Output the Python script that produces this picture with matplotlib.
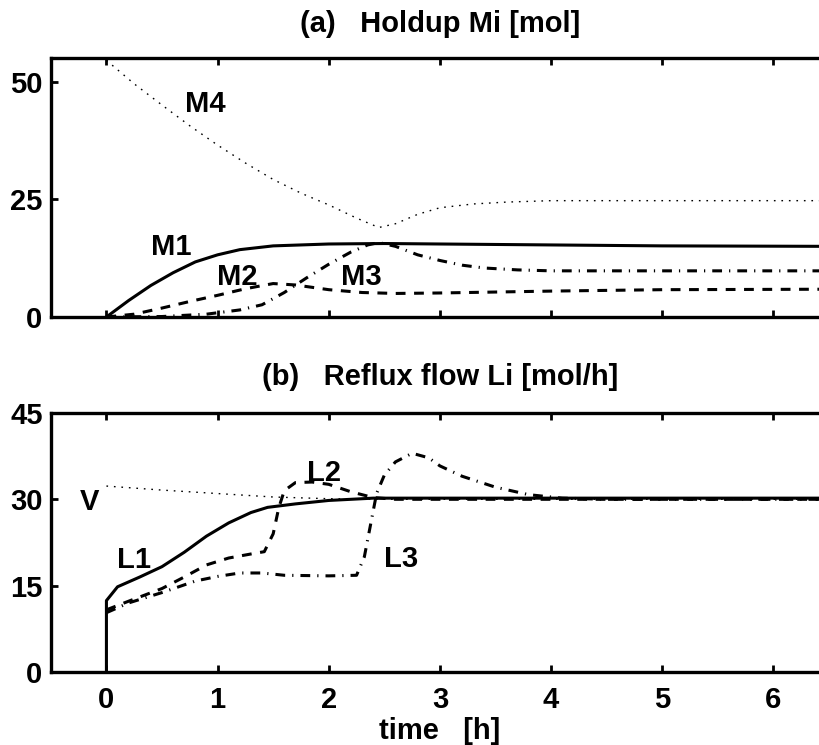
import numpy as np
import matplotlib
matplotlib.use("Agg")
import matplotlib.pyplot as plt

# ---------------------------------------------------
# 1. Data (time in h)
# ---------------------------------------------------

# (a) holdups [mol]
t_m1 = [0, 0.2, 0.4, 0.6, 0.8, 1.0, 1.2, 1.5, 2.0, 2.5, 3.0, 4.0, 5.0, 6.5]
m1 = [0, 3.5, 6.7, 9.4, 11.7, 13.2, 14.3, 15.1, 15.5, 15.6, 15.5, 15.3, 15.1, 15.0]

t_m2 = [0, 0.25, 0.5, 0.75, 1.0, 1.25, 1.5, 1.7, 2.0, 2.3, 2.6, 3.0, 4.0, 5.0, 6.5]
m2 = [0, 0.6, 1.9, 3.3, 4.6, 6.0, 7.1, 6.8, 5.8, 5.2, 5.0, 5.1, 5.5, 5.8, 5.9]

t_m3 = [0, 0.5, 0.9, 1.2, 1.4, 1.6, 1.8, 2.0, 2.2, 2.35, 2.45, 2.6, 2.8, 3.0,
        3.2, 3.4, 3.7, 4.0, 6.5]
m3 = [0, 0.1, 0.6, 1.5, 2.6, 5.2, 8.3, 11.2, 13.8, 15.3, 15.8, 15.0, 13.2, 12.0,
      11.0, 10.4, 10.0, 9.8, 9.8]

t_m4 = [0, 0.25, 0.5, 0.75, 1.0, 1.25, 1.5, 1.75, 2.0, 2.25, 2.45, 2.6, 2.8,
        3.0, 3.3, 3.6, 4.0, 5.0, 6.5]
m4 = [54.5, 49.5, 45.0, 40.6, 36.5, 32.7, 29.2, 26.3, 23.8, 21.0, 19.0, 19.8,
      21.8, 23.2, 24.0, 24.4, 24.7, 24.7, 24.7]

# (b) reflux flows [mol/h]
t_l1 = [0, 0, 0.1, 0.3, 0.5, 0.7, 0.9, 1.1, 1.3, 1.45, 1.7, 2.0, 2.4, 3.0, 6.5]
l1 = [0, 12.4, 14.8, 16.5, 18.3, 20.8, 23.6, 25.9, 27.7, 28.6, 29.2, 29.8,
      30.2, 30.2, 30.2]

t_l2 = [0, 0.2, 0.5, 0.7, 0.9, 1.1, 1.3, 1.42, 1.5, 1.55, 1.6, 1.7, 1.85, 2.0,
        2.2, 2.4, 2.6, 6.5]
l2 = [10.8, 12.3, 14.5, 16.5, 18.6, 19.8, 20.5, 20.9, 24.0, 28.5, 31.5, 32.9,
      33.0, 32.6, 31.3, 30.3, 30.0, 30.0]

t_l3 = [0, 0.2, 0.5, 0.8, 1.0, 1.2, 1.4, 1.6, 2.0, 2.25, 2.32, 2.38, 2.43, 2.5,
        2.6, 2.75, 2.9, 3.0, 3.2, 3.5, 3.8, 4.1, 4.5, 6.5]
l3 = [10.3, 12.0, 13.8, 15.8, 16.6, 17.2, 17.2, 16.8, 16.7, 16.8, 20.0, 26.0,
      31.0, 34.2, 36.5, 38.0, 37.2, 35.8, 34.0, 32.1, 30.8, 30.2, 30.0, 30.0]

t_v = [0, 0.5, 1.0, 1.5, 2.0, 2.5, 6.5]
v = [32.3, 31.6, 31.0, 30.4, 30.1, 30.0, 30.0]

# ---------------------------------------------------
# 2. Styles (MATLAB-ish black lines)
# ---------------------------------------------------

plt.rcParams["font.family"] = ["Liberation Sans", "DejaVu Sans"]
plt.rcParams["font.weight"] = "bold"

solid = dict(color="black", lw=2.2, linestyle="-")
dashed = dict(color="black", lw=2.2, linestyle=(0, (3.2, 2.8)))
dashdot = dict(color="black", lw=2.2, linestyle=(0, (3.2, 2.3, 0.4, 2.3)))
dotted = dict(color="black", lw=1.0, linestyle=(0, (1.2, 4.2)))

lab = dict(fontsize=21, fontweight="bold", ha="center", va="center")

fig = plt.figure(figsize=(8.2, 7.45), dpi=100)
ax1 = fig.add_axes([0.062, 0.5745, 0.949, 0.3477])
ax2 = fig.add_axes([0.062, 0.098, 0.949, 0.3477])

for ax in (ax1, ax2):
    ax.set_xlim(-0.5, 6.5)
    ax.set_xticks(range(0, 7))
    ax.tick_params(axis="both", direction="in", length=5, width=2,
                   labelsize=21, top=True, right=True)
    ax.tick_params(axis="x", pad=10)
    ax.tick_params(axis="y", pad=6)
    for s in ax.spines.values():
        s.set_linewidth(2.4)

# ---------------------------------------------------
# 3. (a) Holdup
# ---------------------------------------------------

ax1.plot(t_m1, m1, **solid)
ax1.plot(t_m2, m2, **dashed)
ax1.plot(t_m3, m3, **dashdot)
ax1.plot(t_m4, m4, **dotted)
ax1.set_ylim(0, 55)
ax1.set_yticks([0, 25, 50])
ax1.set_xticklabels([])
ax1.set_title("(a)   Holdup Mi [mol]", fontsize=21, fontweight="bold", pad=19)

ax1.text(0.89, 45.2, "M4", **lab)
ax1.text(0.585, 14.8, "M1", **lab)
ax1.text(1.18, 8.5, "M2", **lab)
ax1.text(2.29, 8.5, "M3", **lab)

# ---------------------------------------------------
# 4. (b) Reflux flow
# ---------------------------------------------------

ax2.plot(t_v, v, **dotted)
ax2.plot(t_l3, l3, **dashdot)
ax2.plot(t_l2, l2, **dashed)
ax2.plot(t_l1, l1, **solid)
ax2.set_ylim(0, 45)
ax2.set_yticks([0, 15, 30, 45])
ax2.set_title("(b)   Reflux flow Li [mol/h]", fontsize=21, fontweight="bold", pad=20)
ax2.set_xlabel("time   [h]", fontsize=21, fontweight="bold", labelpad=2)

ax2.text(-0.15, 29.6, "V", **lab)
ax2.text(0.25, 19.4, "L1", **lab)
ax2.text(1.96, 34.5, "L2", **lab)
ax2.text(2.65, 19.7, "L3", **lab)

for ax in (ax1, ax2):
    for lbl in ax.get_xticklabels() + ax.get_yticklabels():
        lbl.set_fontweight("bold")

fig.savefig("out.png", dpi=100)
